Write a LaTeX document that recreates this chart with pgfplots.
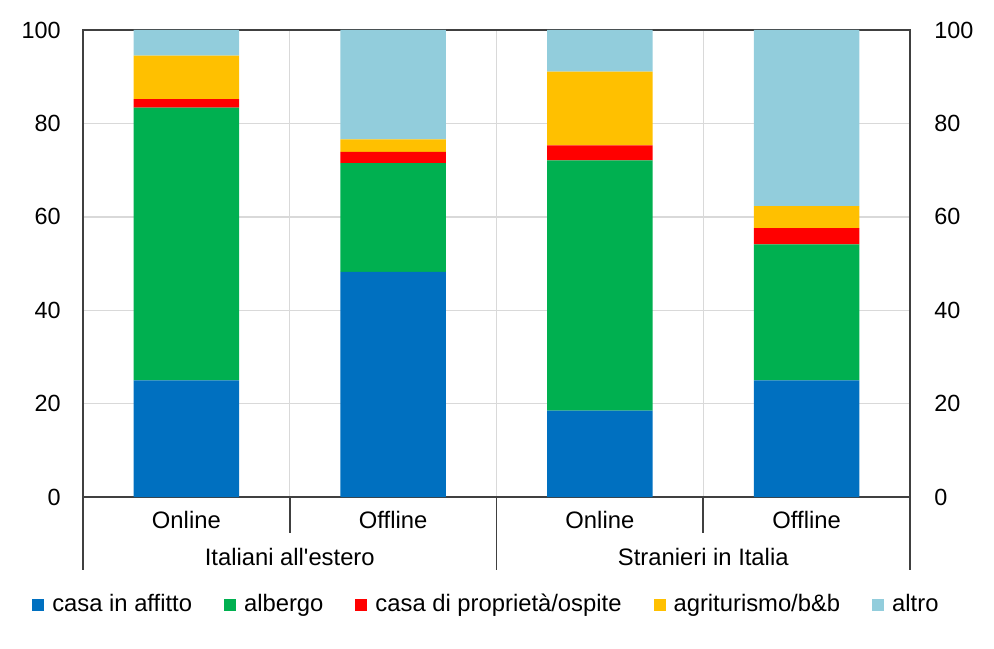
\documentclass[border=0pt]{standalone}
\usepackage{fontspec}
\setmainfont{Liberation Sans}
\usepackage{pgfplots}
\pgfplotsset{compat=1.18}
\definecolor{cBlue}{HTML}{0070C0}
\definecolor{cGreen}{HTML}{00B050}
\definecolor{cRed}{HTML}{FF0000}
\definecolor{cYellow}{HTML}{FFC000}
\definecolor{cLight}{HTML}{92CDDC}
\definecolor{cGrid}{HTML}{D9D9D9}
\definecolor{cAxis}{HTML}{404040}
\pgfplotsset{
  sq/.style={legend image code/.code={\fill[##1] (0pt,-3pt) rectangle (6pt,3pt);}},
}
\begin{document}
\fontsize{11.9}{14}\selectfont
\begin{tikzpicture}
\useasboundingbox (-41.5pt,-75.5pt) rectangle (455.5pt,248.5pt);
\begin{axis}[
  at={(0,0)}, anchor=south west,
  scale only axis, width=413.5pt, height=233.5pt,
  xmin=0, xmax=4, ymin=0, ymax=100,
  ybar stacked, bar width=0.51,
  clip=false,
  xtick={1,2,3}, xticklabels={}, xmajorgrids,
  ytick={0,20,...,100}, ymajorgrids,
  grid style={draw=cGrid, line width=0.7pt},
  major tick length=0pt,
  axis line style={draw=cAxis, line width=0.8pt},
  yticklabel style={xshift=-7pt, font=\fontsize{11.7}{14}\selectfont},
  /pgf/number format/assume math mode=true,
  legend columns=5,
  legend style={draw=none, fill=none, at={(0.489,-0.231)}, anchor=center,
    font=\fontsize{11.9}{14}\selectfont,
    /tikz/every even column/.append style={column sep=14pt},
    /tikz/every odd column/.append style={column sep=2pt},
    inner sep=0pt},
  legend cell align=left,
]
\addplot[fill=cBlue, draw=none, sq] coordinates {(0.5,25.0) (1.5,48.2) (2.5,18.5) (3.5,25.0)};
\addplot[fill=cGreen, draw=none, sq] coordinates {(0.5,58.4) (1.5,23.3) (2.5,53.6) (3.5,29.1)};
\addplot[fill=cRed, draw=none, sq] coordinates {(0.5,1.8) (1.5,2.4) (2.5,3.2) (3.5,3.5)};
\addplot[fill=cYellow, draw=none, sq] coordinates {(0.5,9.3) (1.5,2.7) (2.5,15.8) (3.5,4.7)};
\addplot[fill=cLight, draw=none, sq] coordinates {(0.5,5.5) (1.5,23.4) (2.5,8.9) (3.5,37.7)};
\legend{casa in affitto, albergo, casa di proprietà/ospite, agriturismo/b\&b, altro}
% category separators
\draw[cAxis, line width=0.8pt] (axis cs:1,0) -- (axis cs:1,-7.7);
\draw[cAxis, line width=0.8pt] (axis cs:3,0) -- (axis cs:3,-7.7);
\draw[cAxis, line width=0.8pt] (axis cs:0,0) -- (axis cs:0,-15.6);
\draw[cAxis, line width=0.8pt] (axis cs:2,0) -- (axis cs:2,-15.6);
\draw[cAxis, line width=0.8pt] (axis cs:4,0) -- (axis cs:4,-15.6);
\node at (axis cs:0.5,-4.9) {Online};
\node at (axis cs:1.5,-4.9) {Offline};
\node at (axis cs:2.5,-4.9) {Online};
\node at (axis cs:3.5,-4.9) {Offline};
\node at (axis cs:1,-12.8) {Italiani all\textquotesingle estero};
\node at (axis cs:3,-12.8) {Stranieri in Italia};
\end{axis}
\begin{axis}[
  at={(0,0)}, anchor=south west,
  scale only axis, width=413.5pt, height=233.5pt,
  xmin=0, xmax=4, ymin=0, ymax=100,
  axis y line*=right, axis x line=none,
  ytick={0,20,...,100},
  major tick length=0pt,
  axis line style={draw=cAxis, line width=0.8pt},
  yticklabel style={xshift=8pt, font=\fontsize{11.7}{14}\selectfont},
  /pgf/number format/assume math mode=true,
]
\addplot[draw=none, forget plot] coordinates {(0,0) (4,100)};
\end{axis}
\end{tikzpicture}
\end{document}
